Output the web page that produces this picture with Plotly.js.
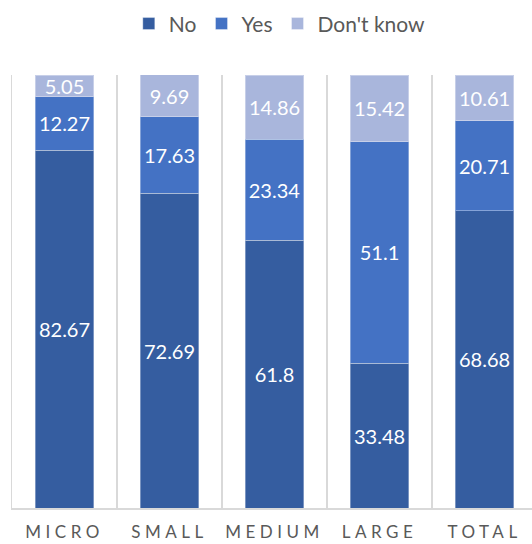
<!DOCTYPE html>
<html>
<head>
<meta charset="utf-8">
<script src="https://cdn.plot.ly/plotly-3.0.1.min.js"></script>
<style>
html,body{margin:0;padding:0;background:#fff;}
#chart{width:532px;height:544px;}
.xtick text{letter-spacing:4.5px;}
</style>
</head>
<body>
<div id="chart"></div>
<script>
var categories = ["MICRO", "SMALL", "MEDIUM", "LARGE", "TOTAL"];
var seriesNames = ["No", "Yes", "Don't know"];
var noValues = [82.67, 72.69, 61.8, 33.48, 68.68];
var yesValues = [12.27, 17.63, 23.34, 51.1, 20.71];
var dontKnowValues = [5.05, 9.69, 14.86, 15.42, 10.61];
var colors = ["#355da0", "#4472c4", "#a9b6dc"];

var allValues = [noValues, yesValues, dontKnowValues];
var traces = allValues.map(function (vals, i) {
  return {
    type: "bar",
    name: seriesNames[i],
    x: categories,
    y: vals,
    text: vals.map(function (v) { return String(v); }),
    textposition: "inside",
    insidetextanchor: "middle",
    textangle: 0,
    textfont: {color: "#ffffff", size: 20, family: "Lato, sans-serif"},
    marker: {color: colors[i], line: {color: "rgba(255,255,255,0.35)", width: 1}},
    hoverinfo: "none"
  };
});

var layout = {
  width: 532,
  height: 544,
  barmode: "stack",
  bargap: 0.44,
  margin: {l: 12, r: 0, t: 75, b: 36},
  paper_bgcolor: "#ffffff",
  plot_bgcolor: "#ffffff",
  uniformtext: {mode: "show", minsize: 20},
  showlegend: true,
  legend: {
    orientation: "h",
    x: 0.515, xanchor: "center",
    y: 1.118, yanchor: "middle",
    yref: "paper",
    font: {family: "Lato, sans-serif", size: 21, color: "#595959"},
    traceorder: "normal",
    itemclick: false
  },
  xaxis: {
    type: "category",
    range: [-0.5, 4.452],
    tickson: "boundaries",
    showgrid: true,
    gridcolor: "#d9d9d9",
    gridwidth: 1.5,
    ticks: "",
    showline: true,
    linecolor: "#d9d9d9",
    linewidth: 1.5,
    ticklabelstandoff: 8,
    tickfont: {family: "Lato, sans-serif", size: 17, color: "#595959"},
    fixedrange: true
  },
  yaxis: {
    range: [0, 100],
    showgrid: false,
    zeroline: false,
    showticklabels: false,
    ticks: "",
    showline: true,
    linecolor: "#d9d9d9",
    linewidth: 1.5,
    fixedrange: true
  }
};

Plotly.newPlot("chart", traces, layout, {displayModeBar: false, staticPlot: true});
</script>
</body>
</html>
